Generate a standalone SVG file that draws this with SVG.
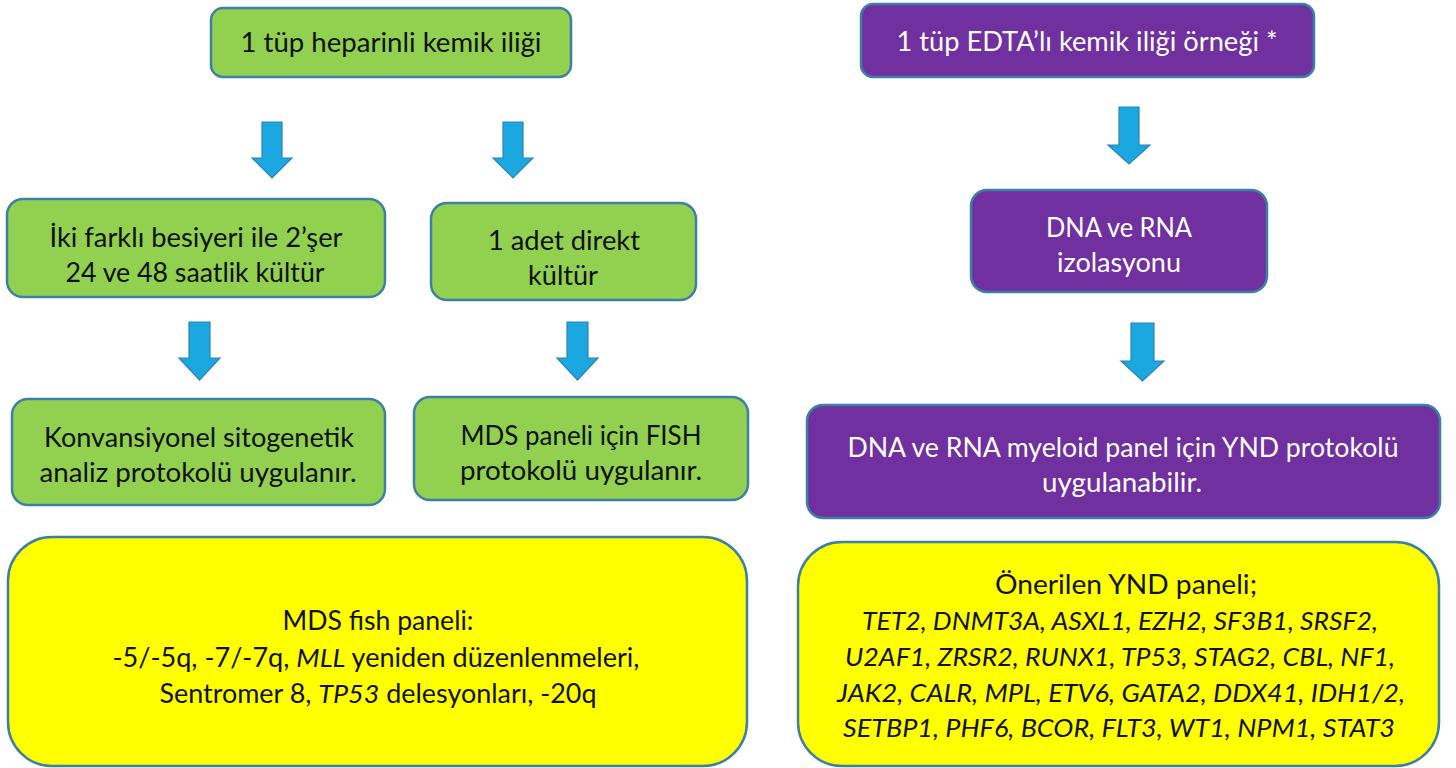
<svg xmlns="http://www.w3.org/2000/svg" width="1456" height="768" viewBox="0 0 1456 768">
<defs>
<style>
.g{fill:#92D050;stroke:#3E7FA6;stroke-width:2.5}
.p{fill:#7030A0;stroke:#3E7FA6;stroke-width:2.5}
.y{fill:#FFFF00;stroke:#3E7FA6;stroke-width:2.5}
.a{fill:#1BA8E0;stroke:#2B84B4;stroke-width:1.2}
text{font-family:Lato,"Liberation Sans",sans-serif;font-size:26px;text-anchor:middle;fill:#111}
.w{fill:#fff}
.i{font-style:italic}
</style>
</defs>
<rect width="1456" height="768" fill="#fff"/>
<g id="connectors">
<path class="a" d="M262,122 H282 V158 H292 L272,178 L252,158 H262 Z"/>
<path class="a" d="M503,122 H523 V158 H533 L513,178 L493,158 H503 Z"/>
<path class="a" d="M189,322 H210 V358 H220 L199.5,380 L179,358 H189 Z"/>
<path class="a" d="M567,322 H588 V358 H598 L577.5,380 L557,358 H567 Z"/>
<path class="a" d="M1119,107 H1139 V145 H1150 L1129,164 L1108,145 H1119 Z"/>
<path class="a" d="M1131,323 H1154 V361 H1164 L1142.5,381 L1121,361 H1131 Z"/>
</g>
<g id="n1"><rect class="g" x="211" y="8" width="360" height="69" rx="12"/><text x="391" y="52" textLength="301" lengthAdjust="spacingAndGlyphs">1 tüp heparinli kemik iliği</text></g>
<g id="n2"><rect class="g" x="7" y="199" width="378" height="98" rx="16"/><text x="196" y="247" textLength="293" lengthAdjust="spacingAndGlyphs">İki farklı besiyeri ile 2’şer</text><text x="195" y="282" textLength="259" lengthAdjust="spacingAndGlyphs">24 ve 48 saatlik kültür</text></g>
<g id="n3"><rect class="g" x="431" y="203" width="265" height="97" rx="16"/><text x="564" y="250" textLength="152" lengthAdjust="spacingAndGlyphs">1 adet direkt</text><text x="563" y="285" textLength="70" lengthAdjust="spacingAndGlyphs">kültür</text></g>
<g id="n4"><rect class="g" x="12" y="399" width="373" height="106" rx="16"/><text x="199" y="447" textLength="310" lengthAdjust="spacingAndGlyphs">Konvansiyonel sitogenetik</text><text x="198" y="482" textLength="317" lengthAdjust="spacingAndGlyphs">analiz protokolü uygulanır.</text></g>
<g id="n5"><rect class="g" x="414" y="397" width="334" height="103" rx="16"/><text x="581" y="445" textLength="241" lengthAdjust="spacingAndGlyphs">MDS paneli için FISH</text><text x="581" y="480" textLength="242" lengthAdjust="spacingAndGlyphs">protokolü uygulanır.</text></g>
<g id="n6"><rect class="y" x="8" y="537" width="739" height="229" rx="44"/><text x="378" y="630" textLength="191" lengthAdjust="spacingAndGlyphs">MDS fish paneli:</text><text x="376" y="667" textLength="527" lengthAdjust="spacingAndGlyphs">-5/-5q, -7/-7q, <tspan class="i">MLL</tspan> yeniden düzenlenmeleri,</text><text x="378" y="703" textLength="437" lengthAdjust="spacingAndGlyphs">Sentromer 8, <tspan class="i">TP53</tspan> delesyonları, -20q</text></g>
<g id="n7"><rect class="p" x="861" y="4" width="453" height="73" rx="12"/><text class="w" x="1087" y="51" textLength="381" lengthAdjust="spacingAndGlyphs">1 tüp EDTA’lı kemik iliği örneği *</text></g>
<g id="n8"><rect class="p" x="971" y="190" width="296" height="102" rx="16"/><text class="w" x="1119" y="237" textLength="146" lengthAdjust="spacingAndGlyphs">DNA ve RNA</text><text class="w" x="1119" y="272" textLength="124" lengthAdjust="spacingAndGlyphs">izolasyonu</text></g>
<g id="n9"><rect class="p" x="807" y="405" width="633" height="113" rx="16"/><text class="w" x="1123" y="457" textLength="551" lengthAdjust="spacingAndGlyphs">DNA ve RNA myeloid panel için YND protokolü</text><text class="w" x="1122" y="492" textLength="160" lengthAdjust="spacingAndGlyphs">uygulanabilir.</text></g>
<g id="n10"><rect class="y" x="798" y="542" width="641" height="224" rx="44"/>
<text x="1126" y="594" textLength="262" lengthAdjust="spacingAndGlyphs">Önerilen YND paneli;</text>
<text class="i" x="1120" y="630" textLength="516" lengthAdjust="spacingAndGlyphs">TET2, DNMT3A, ASXL1, EZH2, SF3B1, SRSF2,</text>
<text class="i" x="1120" y="666" textLength="550" lengthAdjust="spacingAndGlyphs">U2AF1, ZRSR2, RUNX1, TP53, STAG2, CBL, NF1,</text>
<text class="i" x="1121" y="702" textLength="568" lengthAdjust="spacingAndGlyphs">JAK2, CALR, MPL, ETV6, GATA2, DDX41, IDH1/2,</text>
<text class="i" x="1119" y="737" textLength="552" lengthAdjust="spacingAndGlyphs">SETBP1, PHF6, BCOR, FLT3, WT1, NPM1, STAT3</text>
</g>
</svg>
